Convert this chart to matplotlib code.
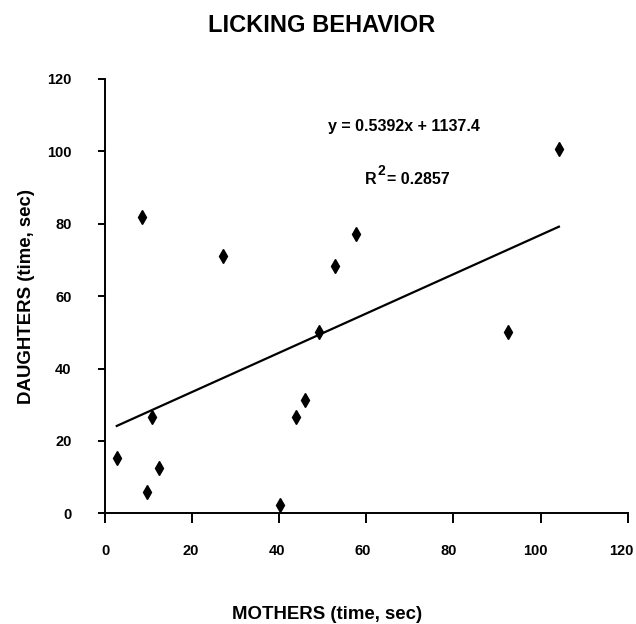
import numpy as np
import matplotlib
matplotlib.use('Agg')
import matplotlib.pyplot as plt
from matplotlib.transforms import ScaledTranslation

plt.rcParams['font.family'] = ['Liberation Sans', 'DejaVu Sans']
plt.rcParams['font.weight'] = 'bold'

# licking time (sec), one point per mother/daughter pair
mothers = [8.6, 27.1, 52.9, 57.7, 2.7, 10.8, 9.6, 12.3, 40.2, 43.9, 45.8, 49.2, 104.2, 92.4]
daughters = [82.0, 71.2, 68.4, 77.1, 15.4, 26.6, 5.9, 12.5, 2.2, 26.6, 31.2, 50.1, 100.6, 50.0]

x_ticks = [0, 20, 40, 60, 80, 100, 120]
y_ticks = [0, 20, 40, 60, 80, 100, 120]

eq_text = 'y = 0.5392x + 1137.4'
r2_value = '= 0.2857'


def plot_licking(x, y):
    fig = plt.figure(figsize=(6.36, 6.24), dpi=100)
    ax = fig.add_axes([0.1651, 0.1774, 0.8219, 0.696])

    ax.plot(x, y, linestyle='none', marker='d', markersize=7.5,
            color='black', zorder=3)

    # linear trendline through fitted values
    slope, icpt = np.polyfit(x, y, 1)
    xs = np.sort(np.array(x))
    ax.plot(xs, slope * xs + icpt, color='black', linewidth=1.6)

    ax.set_xlim(0, 120)
    ax.set_ylim(0, 120)
    ax.set_xticks(x_ticks)
    ax.set_yticks(y_ticks)
    ax.set_xticklabels([str(t) for t in x_ticks], fontsize=10.5, fontweight='bold')
    ax.set_yticklabels([str(t) for t in y_ticks], fontsize=10.5, fontweight='bold')
    ax.tick_params(axis='x', direction='out', length=7.5, width=1.4, pad=14.5)
    ax.tick_params(axis='y', direction='out', length=5, width=1.4, pad=19)

    # excel places the x labels a touch left of their ticks
    for t, lab in zip(x_ticks, ax.get_xticklabels()):
        dx = -6.5 * t / 120 / 100.0
        lab.set_transform(lab.get_transform() + ScaledTranslation(dx, 0, fig.dpi_scale_trans))

    for side in ['top', 'right']:
        ax.spines[side].set_visible(False)
    for side in ['left', 'bottom']:
        ax.spines[side].set_linewidth(1.4)

    ax.set_xlabel('MOTHERS (time, sec)', fontsize=13.4, fontweight='bold')
    ax.xaxis.label.set_va('center')
    ax.xaxis.set_label_coords(0.4247, -0.233)
    ax.set_ylabel('DAUGHTERS (time, sec)', fontsize=13.4, fontweight='bold')
    ax.yaxis.label.set_va('center')
    ax.yaxis.set_label_coords(-0.1511, 0.5)

    fig.text(0.5058, 0.9587, 'LICKING BEHAVIOR', fontsize=17, fontweight='bold',
             ha='center', va='center')

    ax.text(68.6, 107.0, eq_text, fontsize=11.5, fontweight='bold', ha='center', va='center')
    ax.text(59.7, 90.9, 'R', fontsize=11.5, fontweight='bold', ha='left', va='baseline')
    ax.text(62.5, 93.4, '2', fontsize=10, fontweight='bold', ha='left', va='baseline')
    ax.text(64.8, 90.9, r2_value, fontsize=11.5, fontweight='bold', ha='left', va='baseline')

    fig.savefig('out.png', dpi=100)


plot_licking(mothers, daughters)
